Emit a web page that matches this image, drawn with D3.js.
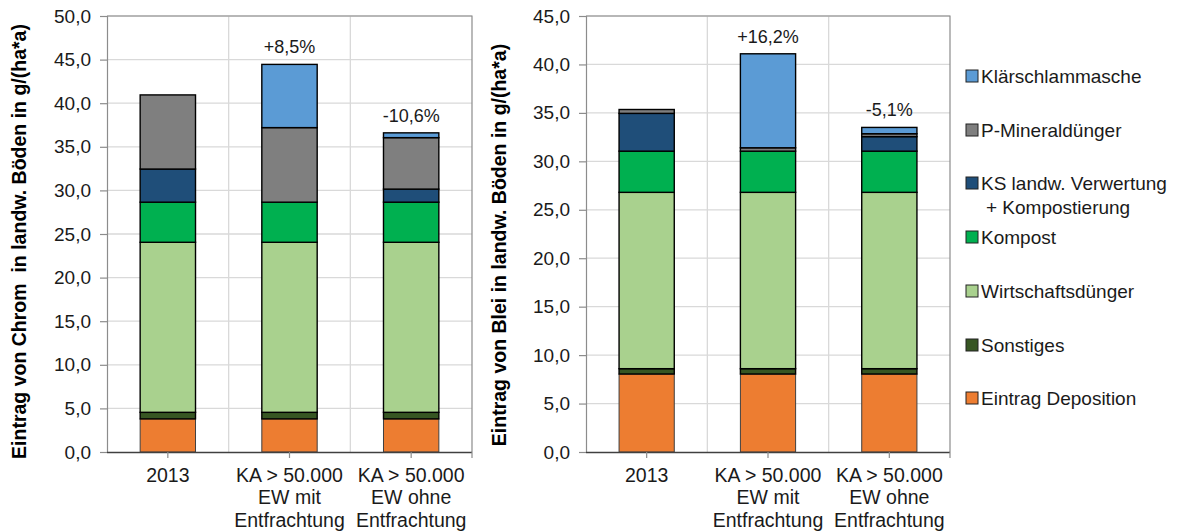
<!DOCTYPE html>
<html><head><meta charset="utf-8">
<script src="https://cdn.jsdelivr.net/npm/d3@7"></script>
<style>
html,body{margin:0;padding:0;background:#fff;}
svg{display:block;font-family:"Liberation Sans",Arial,sans-serif;}
</style></head>
<body><svg id="c" width="1177" height="532"></svg>
<script>
// ---- data ----
const categories = ["2013", "KA > 50.000 EW mit Entfrachtung", "KA > 50.000 EW ohne Entfrachtung"];
const categoryLines = [["2013"], ["KA > 50.000", "EW mit", "Entfrachtung"], ["KA > 50.000", "EW ohne", "Entfrachtung"]];
const seriesNames = ["Eintrag Deposition", "Sonstiges", "Wirtschaftsdünger", "Kompost", "KS landw. Verwertung + Kompostierung", "P-Mineraldünger", "Klärschlammasche"];
const legendLines = [["Eintrag Deposition"], ["Sonstiges"], ["Wirtschaftsdünger"], ["Kompost"], ["KS landw. Verwertung", "+ Kompostierung"], ["P-Mineraldünger"], ["Klärschlammasche"]];
const seriesColors = ["#ED7D31", "#375623", "#A9D18E", "#00B050", "#1F4E79", "#7F7F7F", "#5B9BD5"];

// Chrom (left chart), per category
const chromDeposition = [3.8, 3.8, 3.8];
const chromSonstiges = [0.75, 0.75, 0.75];
const chromWirtschaft = [19.5, 19.5, 19.5];
const chromKompost = [4.6, 4.6, 4.6];
const chromKS = [3.8, 0, 1.5];
const chromPMineral = [8.5, 8.55, 5.9];
const chromKlaer = [0, 7.25, 0.55];
const chromChange = ["", "+8,5%", "-10,6%"];
const chromTicks = [0, 5, 10, 15, 20, 25, 30, 35, 40, 45, 50];

// Blei (right chart)
const bleiDeposition = [8.05, 8.05, 8.05];
const bleiSonstiges = [0.55, 0.55, 0.55];
const bleiWirtschaft = [18.2, 18.2, 18.2];
const bleiKompost = [4.25, 4.25, 4.25];
const bleiKS = [3.9, 0, 1.5];
const bleiPMineral = [0.4, 0.35, 0.3];
const bleiKlaer = [0, 9.7, 0.65];
const bleiChange = ["", "+16,2%", "-5,1%"];
const bleiTicks = [0, 5, 10, 15, 20, 25, 30, 35, 40, 45];

const chromTitle = "Eintrag von Chrom  in landw. Böden in g/(ha*a)";
const bleiTitle = "Eintrag von Blei in landw. Böden in g/(ha*a)";

// ---- drawing ----
const svg = d3.select("#c");
const loc = d3.formatLocale({decimal: ",", thousands: ".", grouping: [3], currency: ["", "€"]});
const fmt = loc.format(".1f");

function rows(arrs) {
  return categories.map((c, i) => {
    const o = {cat: c};
    seriesNames.forEach((s, k) => o[s] = arrs[k][i]);
    return o;
  });
}

function drawChart(cfg) {
  const g = svg.append("g");
  const x = d3.scaleBand().domain(categories).range([cfg.x0, cfg.x1]).paddingInner(0).paddingOuter(0);
  const y = d3.scaleLinear().domain([0, cfg.max]).range([cfg.y1, cfg.y0]);
  const bw = x.bandwidth() * 0.455;

  // horizontal gridlines
  g.selectAll(".hg").data(cfg.ticks.filter(t => t > 0)).join("line")
    .attr("x1", cfg.x0).attr("x2", cfg.x1)
    .attr("y1", d => y(d)).attr("y2", d => y(d))
    .attr("stroke", "#D9D9D9").attr("stroke-width", 1.3);
  // vertical gridlines at category boundaries
  g.selectAll(".vg").data(categories.slice(1)).join("line")
    .attr("x1", d => x(d)).attr("x2", d => x(d))
    .attr("y1", cfg.y0).attr("y2", cfg.y1)
    .attr("stroke", "#D9D9D9").attr("stroke-width", 1.3);
  // plot border (top & right)
  g.append("path")
    .attr("d", `M${cfg.x0},${cfg.y0}H${cfg.x1}V${cfg.y1}`)
    .attr("fill", "none").attr("stroke", "#8C8C8C").attr("stroke-width", 1.2);

  // stacked bars
  const data = rows(cfg.values);
  const stack = d3.stack().keys(seriesNames)(data);
  stack.forEach((layer, k) => {
    g.selectAll(null).data(layer.filter(d => d[1] - d[0] > 0)).join("rect")
      .attr("x", d => x(d.data.cat) + (x.bandwidth() - bw) / 2)
      .attr("width", bw)
      .attr("y", d => y(d[1]))
      .attr("height", d => y(d[0]) - y(d[1]))
      .attr("fill", seriesColors[k])
      .attr("stroke", k === 0 ? "#404040" : "#000")
      .attr("stroke-width", k === 0 ? 1 : 1.4);
  });

  // change labels
  const totals = data.map(d => seriesNames.reduce((s, n) => s + d[n], 0));
  g.selectAll(".pct").data(categories).join("text")
    .attr("x", d => x(d) + x.bandwidth() / 2)
    .attr("y", (d, i) => y(totals[i]) - 11)
    .attr("text-anchor", "middle")
    .attr("font-size", 18).attr("fill", "#1a1a1a")
    .text((d, i) => cfg.change[i]);

  // y axis
  const ya = d3.axisLeft(y).tickValues(cfg.ticks).tickFormat(fmt).tickSize(7).tickPadding(9);
  const yg = g.append("g").attr("transform", `translate(${cfg.x0},0)`).call(ya);
  yg.select(".domain").attr("stroke", "#8C8C8C").attr("stroke-width", 1.2);
  yg.selectAll(".tick line").attr("stroke", "#8C8C8C").attr("stroke-width", 1.2);
  yg.selectAll(".tick text").attr("font-size", 19).attr("fill", "#1a1a1a")
    .attr("font-family", "Liberation Sans, Arial, sans-serif");

  // x axis
  const xa = d3.axisBottom(x).tickSize(6).tickFormat("");
  const xg = g.append("g").attr("transform", `translate(0,${cfg.y1})`).call(xa);
  xg.select(".domain").attr("stroke", "#404040").attr("stroke-width", 1.4).attr("d", `M${cfg.x0},0.5H${cfg.x1}`);
  xg.selectAll(".tick line").attr("stroke", "#8C8C8C").attr("stroke-width", 1.2);
  xg.append("line").attr("x1", cfg.x1).attr("x2", cfg.x1).attr("y1", 0).attr("y2", 6).attr("stroke", "#8C8C8C").attr("stroke-width", 1.2);

  categories.forEach((c, i) => {
    const t = g.append("text")
      .attr("x", x(c) + x.bandwidth() / 2)
      .attr("y", cfg.y1 + 30)
      .attr("text-anchor", "middle").attr("font-size", 19.5).attr("fill", "#1a1a1a");
    categoryLines[i].forEach((ln, j) => {
      t.append("tspan").attr("x", x(c) + x.bandwidth() / 2).attr("dy", j === 0 ? 0 : 22.3).text(ln);
    });
  });

  // y title
  g.append("text")
    .attr("transform", `translate(${cfg.titleX},${cfg.titleY}) rotate(-90)`)
    .attr("text-anchor", "middle").attr("font-size", 19.5).attr("font-weight", "bold")
    .attr("fill", "#000").style("white-space", "pre")
    .text(cfg.title);
}

drawChart({
  x0: 107, x1: 472, y0: 16, y1: 452, max: 50, ticks: chromTicks,
  values: [chromDeposition, chromSonstiges, chromWirtschaft, chromKompost, chromKS, chromPMineral, chromKlaer],
  change: chromChange, title: chromTitle, titleX: 26, titleY: 241.5
});
drawChart({
  x0: 586, x1: 950, y0: 16, y1: 452, max: 45, ticks: bleiTicks,
  values: [bleiDeposition, bleiSonstiges, bleiWirtschaft, bleiKompost, bleiKS, bleiPMineral, bleiKlaer],
  change: bleiChange, title: bleiTitle, titleX: 506, titleY: 245
});

// legend (top to bottom: reverse stack order)
const legendY = [76, 130, 183, 237, 291, 345, 398];
const lg = svg.append("g");
const order = d3.range(seriesNames.length).reverse();
order.forEach((k, r) => {
  const cy = legendY[r];
  lg.append("rect").attr("x", 966).attr("y", cy - 6).attr("width", 12).attr("height", 12)
    .attr("fill", seriesColors[k]).attr("stroke", "#222").attr("stroke-width", 1);
  const t = lg.append("text").attr("x", 981).attr("y", cy + 6.8)
    .attr("font-size", 19).attr("fill", "#1a1a1a");
  legendLines[k].forEach((ln, j) => {
    t.append("tspan").attr("x", j === 0 ? 981 : 986).attr("dy", j === 0 ? 0 : 24.5).text(ln);
  });
});
</script></body></html>
